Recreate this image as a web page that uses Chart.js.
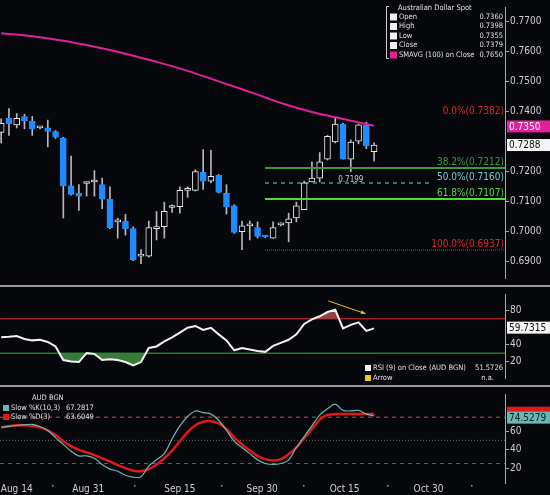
<!DOCTYPE html>
<html>
<head>
<meta charset="utf-8">
<script src="https://cdn.jsdelivr.net/npm/chart.js@4.4.1/dist/chart.umd.min.js"></script>
<style>
  body { margin: 0; background: #07080c; width: 550px; height: 495px; overflow: hidden; }
  canvas { position: absolute; left: 0; }
  .sep { position: absolute; left: 0; width: 550px; height: 2px; background: #9a9a9a; }
</style>
</head>
<body>
<canvas id="main" style="top:0" width="550" height="285"></canvas>
<div class="sep" style="top:285px"></div>
<canvas id="rsi" style="top:287px" width="550" height="98"></canvas>
<div class="sep" style="top:385px"></div>
<canvas id="stoch" style="top:387px" width="550" height="108"></canvas>
<script>
// === DATA (candles, trading-day index 0 = Aug 12) ===
const opens  = [0.7330,0.7377,0.7355,0.7383,0.7368,0.7345,0.7345,0.7333,0.7311,0.7152,0.7127,0.7160,0.7165,0.7156,0.7108,0.7032,0.7035,0.7010,0.6918,0.6918,0.7010,0.7016,0.7080,0.7083,0.7137,0.7137,0.7197,0.7168,0.7187,0.7127,0.7086,0.7000,0.7019,0.7013,0.6984,0.6978,0.7022,0.7029,0.7045,0.7073,0.7165,0.7178,0.7241,0.7298,0.7358,0.7241,0.7301,0.7355,0.7266];
const highs  = [0.7375,0.7409,0.7393,0.7390,0.7383,0.7350,0.7371,0.7336,0.7314,0.7251,0.7156,0.7165,0.7203,0.7178,0.7149,0.7045,0.7057,0.7016,0.6940,0.7035,0.7067,0.7098,0.7089,0.7149,0.7149,0.7206,0.7273,0.7270,0.7190,0.7156,0.7089,0.7035,0.7035,0.7032,0.6987,0.7032,0.7029,0.7061,0.7098,0.7168,0.7232,0.7263,0.7320,0.7377,0.7360,0.7305,0.7358,0.7364,0.7295];
const lows   = [0.7295,0.7320,0.7345,0.7342,0.7320,0.7342,0.7282,0.7310,0.7045,0.7121,0.7070,0.7118,0.7118,0.7076,0.7010,0.6978,0.6988,0.6903,0.6893,0.6915,0.6972,0.6978,0.7064,0.7061,0.7114,0.7135,0.7140,0.7162,0.7128,0.7058,0.6994,0.6940,0.6972,0.6978,0.6980,0.6978,0.7019,0.6966,0.7032,0.7073,0.7165,0.7165,0.7238,0.7295,0.7241,0.7199,0.7292,0.7276,0.7235];
const closes = [0.7360,0.7358,0.7377,0.7368,0.7342,0.7348,0.7333,0.7314,0.7152,0.7124,0.7118,0.7163,0.7168,0.7108,0.7013,0.7035,0.7010,0.6906,0.6921,0.7013,0.7013,0.7067,0.7083,0.7137,0.7140,0.7200,0.7168,0.7184,0.7130,0.7083,0.6997,0.7019,0.7022,0.6984,0.6982,0.7013,0.7026,0.7042,0.7086,0.7162,0.7178,0.7232,0.7317,0.7358,0.7241,0.7298,0.7355,0.7285,0.7288];

// SMA(100), read every 4th candle
const smaIdx = [0,4,8,12,16,20,24,28,32,36,40,44,48];
const smaVal = [0.7660,0.7650,0.7635,0.7615,0.7592,0.7565,0.7535,0.7500,0.7465,0.7428,0.7398,0.7375,0.7352];

// Fibonacci retracement
const fibPct = ["0.0%", "38.2%", "50.0%", "61.8%", "100.0%"];
const fibVal = [0.7382, 0.7212, 0.7160, 0.7107, 0.6937];

// indicators
const rsi = [48.4,49,50,46.6,44.9,45.6,43,37.8,22,20.3,19.6,30,29,22,23,22,19.6,15.7,19.6,36,37.8,43.8,48.4,54,59.6,61.7,57,59.6,51.9,44.9,33.3,36,34.3,32.6,31.5,38.5,42,45.6,51.9,64,69.4,73,78,80.6,58.9,63,66,56,58.9];
const slowK = [64,65,66,66.7,67.3,65,60.7,53,45.7,38.3,33.3,33.3,30.7,24,19,16.7,12.3,10.3,10.7,22.3,29,35.7,51.7,65.7,75.7,81.7,80,78.3,71.7,60.7,49,42.3,35.7,29,25,24,25,29,42.3,54,65.7,77.3,84,89,82.3,81.7,82.3,78.3,76.3];
const slowD = [64,65.3,66.3,66.3,65.7,64,60.7,55.7,49,43.7,39.7,37,34,30.7,27.3,23.3,20,17.3,16.7,19,24,30.7,39,49,59,66.3,70,70.7,68.3,62.3,53,45.7,39,33.3,29.7,28.3,29.7,35,42.3,52.3,62.3,72.3,77.3,78.3,78.3,78.3,78.3,78.3,78.3];

// x ticks (position in trading-day index) and labels
const dateTicks  = [2, 11.2, 23, 33.6, 44.2, 55];
const dateLabels = ["Aug 14", "Aug 31", "Sep 15", "Sep 30", "Oct 15", "Oct 30"];

const priceTicks = [0.69, 0.70, 0.71, 0.72, 0.74, 0.75, 0.76, 0.77];

// === COMMON ===
const FONT = "'DejaVu Sans Condensed', 'DejaVu Sans', sans-serif";
const AXIS = "#a8a8a8";
const TXT = "#d0d0d0";
const BLUE = "#1f8bff";
const X_MIN = -0.15, X_MAX = 64.85;

function xAxis() {
  return { type: "linear", min: X_MIN, max: X_MAX, offset: false, display: false };
}

function yAxis(min, max, ticks, fmt) {
  return {
    position: "right", min, max,
    afterBuildTicks: s => { s.ticks = ticks.map(v => ({ value: v })); },
    afterFit: s => { s.width = 45; },
    grid: { drawOnChartArea: false, color: AXIS, tickLength: 4 },
    border: { display: true, color: AXIS, width: 1 },
    ticks: { color: TXT, font: { family: FONT, size: 10 }, padding: 1, callback: fmt }
  };
}

function box(ctx, y, text, bg, fg) {
  ctx.font = "10px " + FONT;
  ctx.fillStyle = bg;
  ctx.fillRect(507, y - 6, 43, 12);
  ctx.fillStyle = fg;
  ctx.textAlign = "left";
  ctx.textBaseline = "middle";
  ctx.fillText(text, 509, y + 0.5);
}

const baseOpts = {
  responsive: false, animation: false,
  plugins: { legend: { display: false }, tooltip: { enabled: false } },
  layout: { padding: 0 }
};

// === MAIN PRICE CHART ===
const idx = closes.map((c, i) => i);
const isUp = closes.map((c, i) => c >= opens[i]);

const mainOverlay = {
  id: "mainOverlay",
  afterDatasetsDraw(chart) {
    const ctx = chart.ctx, x = chart.scales.x, y = chart.scales.y;
    const x0 = 265;
    const xr = chart.chartArea.right;
    const fibColor = ["#d42a2a", "#3a9a3a", "#7fc8d8", "#4ddc3a", "#d42a2a"];
    ctx.save();
    fibVal.forEach((v, i) => {
      const py = Math.round(y.getPixelForValue(v));
      ctx.strokeStyle = fibColor[i];
      ctx.lineWidth = i === 2 || i === 4 ? 1 : 2;
      ctx.setLineDash(i === 2 ? [4, 4] : (i === 4 ? [1, 1] : []));
      if (i !== 0) {
        ctx.beginPath();
        ctx.moveTo(x0, py);
        ctx.lineTo(i === 2 ? 433 : xr, py);
        ctx.stroke();
      }
      ctx.setLineDash([]);
      ctx.font = "10px " + FONT;
      ctx.fillStyle = fibColor[i];
      ctx.textAlign = "right";
      ctx.textBaseline = "bottom";
      ctx.fillText(fibPct[i] + "(" + v.toFixed(4) + ")", xr - 1, py - 1);
    });
    // low label
    ctx.font = "8px " + FONT;
    ctx.fillStyle = TXT;
    ctx.textAlign = "center";
    ctx.textBaseline = "top";
    ctx.fillText("0.7199", x.getPixelForValue(45), y.getPixelForValue(0.7199) + 4);

    // legend
    ctx.strokeStyle = "#cfcfcf";
    ctx.lineWidth = 1;
    ctx.beginPath();
    ctx.moveTo(389, 6.5); ctx.lineTo(386.5, 6.5); ctx.lineTo(386.5, 58.5); ctx.lineTo(389, 58.5);
    ctx.stroke();
    ctx.font = "7.5px " + FONT;
    ctx.fillStyle = "#e0e0e0";
    ctx.textAlign = "left";
    ctx.textBaseline = "middle";
    ctx.fillText("Australian Dollar Spot", 398, 8);
    const rows = [["Open", "0.7360"], ["High", "0.7398"], ["Low", "0.7355"], ["Close", "0.7379"], ["SMAVG (100) on Close", "0.7650"]];
    rows.forEach((r, i) => {
      const ry = 17 + i * 9.5;
      ctx.fillStyle = i === 4 ? "#e0219a" : "#f0f0f0";
      ctx.fillRect(390, ry - 3.5, 7, 7);
      ctx.fillStyle = "#e0e0e0";
      ctx.textAlign = "left";
      ctx.fillText(r[0], 399, ry);
      ctx.textAlign = "right";
      ctx.fillText(r[1], 503, ry);
    });
    // last value boxes
    box(ctx, y.getPixelForValue(0.7350), "0.7350", "#e0219a", "#ffffff");
    box(ctx, y.getPixelForValue(0.7288), "0.7288", "#f4f4f4", "#101010");
    ctx.restore();
  }
};

new Chart(document.getElementById("main"), {
  type: "bar",
  data: {
    datasets: [
      {
        label: "wick",
        data: idx.map(i => ({ x: i, y: [lows[i], highs[i]] })),
        backgroundColor: "#b8b8b8",
        barThickness: 1, grouped: false, order: 3
      },
      {
        label: "body",
        data: idx.map(i => ({ x: i, y: [Math.min(opens[i], closes[i]), Math.max(opens[i], closes[i])] })),
        backgroundColor: isUp.map(u => u ? "#07080c" : BLUE),
        borderColor: isUp.map(u => u ? "#e8e8e8" : BLUE),
        borderWidth: 1, borderSkipped: false,
        barThickness: 6, grouped: false, minBarLength: 2, order: 2
      },
      {
        type: "line", label: "SMA",
        data: smaIdx.map((v, i) => ({ x: v, y: smaVal[i] })),
        borderColor: "#e0219a", borderWidth: 2, pointRadius: 0, tension: 0.4, order: 1
      }
    ]
  },
  options: {
    ...baseOpts,
    scales: {
      x: xAxis(),
      y: yAxis(0.68454, 0.77475, priceTicks, v => v.toFixed(4))
    }
  },
  plugins: [mainOverlay]
});

// === RSI ===
const rsiOverlay = {
  id: "rsiOverlay",
  afterDatasetsDraw(chart) {
    const ctx = chart.ctx, x = chart.scales.x, y = chart.scales.y;
    ctx.save();
    // arrow
    const ax1 = x.getPixelForValue(42.1), ay1 = y.getPixelForValue(91);
    const ax2 = x.getPixelForValue(46.9), ay2 = y.getPixelForValue(76);
    ctx.strokeStyle = "#e8c21a"; ctx.fillStyle = "#e8c21a"; ctx.lineWidth = 1;
    ctx.beginPath(); ctx.moveTo(ax1, ay1); ctx.lineTo(ax2, ay2); ctx.stroke();
    const ang = Math.atan2(ay2 - ay1, ax2 - ax1);
    ctx.beginPath();
    ctx.moveTo(ax2, ay2);
    ctx.lineTo(ax2 - 5 * Math.cos(ang - 0.4), ay2 - 5 * Math.sin(ang - 0.4));
    ctx.lineTo(ax2 - 5 * Math.cos(ang + 0.4), ay2 - 5 * Math.sin(ang + 0.4));
    ctx.closePath(); ctx.fill();
    // legend
    ctx.font = "7.5px " + FONT;
    ctx.textBaseline = "middle";
    ctx.fillStyle = "#f4f4f4"; ctx.fillRect(365, 78, 6, 6);
    ctx.fillStyle = "#f0c419"; ctx.fillRect(365, 88, 6, 6);
    ctx.fillStyle = "#e0e0e0"; ctx.textAlign = "left";
    ctx.fillText("RSI (9) on Close (AUD BGN)", 373, 81.5);
    ctx.fillText("Arrow", 373, 91.5);
    ctx.textAlign = "right";
    ctx.fillText("51.5726", 503, 81.5);
    ctx.fillText("n.a.", 494, 91.5);
    box(ctx, y.getPixelForValue(59.73), "59.7315", "#f4f4f4", "#101010");
    ctx.restore();
  }
};

new Chart(document.getElementById("rsi"), {
  type: "line",
  data: {
    datasets: [
      {
        data: idx.map(i => ({ x: i, y: rsi[i] })),
        borderColor: "#f2f2f2", borderWidth: 2, pointRadius: 0,
        fill: { target: { value: 70 }, above: "rgba(190,90,90,0.75)", below: "rgba(0,0,0,0)" }, order: 1
      },
      {
        data: idx.map(i => ({ x: i, y: rsi[i] })),
        borderColor: "rgba(0,0,0,0)", borderWidth: 0, pointRadius: 0,
        fill: { target: { value: 30 }, above: "rgba(0,0,0,0)", below: "rgba(70,150,70,0.8)" }, order: 2
      },
      {
        data: [{ x: X_MIN, y: 70 }, { x: X_MAX, y: 70 }],
        borderColor: "#9a1d1d", borderWidth: 1.5, pointRadius: 0, order: 3
      },
      {
        data: [{ x: X_MIN, y: 30 }, { x: X_MAX, y: 30 }],
        borderColor: "#1d7a1d", borderWidth: 1.5, pointRadius: 0, order: 3
      }
    ]
  },
  options: {
    ...baseOpts,
    scales: { x: xAxis(), y: yAxis(1, 99, [20, 40, 80], v => v) }
  },
  plugins: [rsiOverlay]
});

// === STOCHASTIC ===
const stochOverlay = {
  id: "stochOverlay",
  afterDatasetsDraw(chart) {
    const ctx = chart.ctx, x = chart.scales.x, y = chart.scales.y;
    ctx.save();
    ctx.font = "7.5px " + FONT;
    ctx.textBaseline = "middle";
    ctx.fillStyle = "#e0e0e0"; ctx.textAlign = "left";
    ctx.fillText("AUD BGN", 32, 11);
    ctx.fillStyle = "#6ab7b2"; ctx.fillRect(3, 18, 6, 6);
    ctx.fillStyle = "#e01818"; ctx.fillRect(3, 27, 6, 6);
    ctx.fillStyle = "#e0e0e0";
    ctx.fillText("Slow %K(10,3)", 11, 21.5);
    ctx.fillText("67.2817", 66, 21.5);
    ctx.fillText("Slow %D(3)", 11, 30.5);
    ctx.fillText("63.6049", 66, 30.5);
    ctx.fillStyle = "#e01818"; ctx.fillRect(507, y.getPixelForValue(82) - 4, 43, 6);
    box(ctx, y.getPixelForValue(74.5), "74.5279", "#6ab7b2", "#0c1c1c");
    // date labels under the panel
    ctx.font = "10px " + FONT;
    ctx.fillStyle = TXT;
    ctx.textAlign = "center";
    ctx.textBaseline = "top";
    dateTicks.forEach((v, i) => ctx.fillText(dateLabels[i], x.getPixelForValue(v), chart.chartArea.bottom + 1));
    ctx.fillStyle = "#9a9a9a";
    dateTicks.forEach((v, i) => {
      const nx = i < dateTicks.length - 1 ? (v + dateTicks[i + 1]) / 2 : v + 5.5;
      ctx.fillRect(Math.round(x.getPixelForValue(nx)), chart.chartArea.bottom + 2, 1.5, 1.5);
    });
    ctx.restore();
  }
};

const hline = (v, color, dash) => ({
  data: [{ x: X_MIN, y: v }, { x: X_MAX, y: v }],
  borderColor: color, borderWidth: 1, borderDash: dash, pointRadius: 0, order: 5
});

new Chart(document.getElementById("stoch"), {
  type: "line",
  data: {
    datasets: [
      hline(75, "#c05050", [4, 4]),
      hline(50, "#6a6a6a", [1, 2]),
      hline(25, "#3c7a3c", [4, 4]),
      {
        data: idx.map(i => ({ x: i, y: slowD[i] })),
        borderColor: "#e01818", borderWidth: 2.5, pointRadius: 0, tension: 0.3, order: 2
      },
      {
        data: idx.map(i => ({ x: i, y: slowK[i] })),
        borderColor: "#6ab7b2", borderWidth: 1.2, pointRadius: 0, tension: 0.3, order: 1
      }
    ]
  },
  options: {
    ...baseOpts,
    layout: { padding: { bottom: 12 } },
    scales: { x: xAxis(), y: yAxis(4, 100, [20, 40, 60], v => v) }
  },
  plugins: [stochOverlay]
});
</script>
</body>
</html>
